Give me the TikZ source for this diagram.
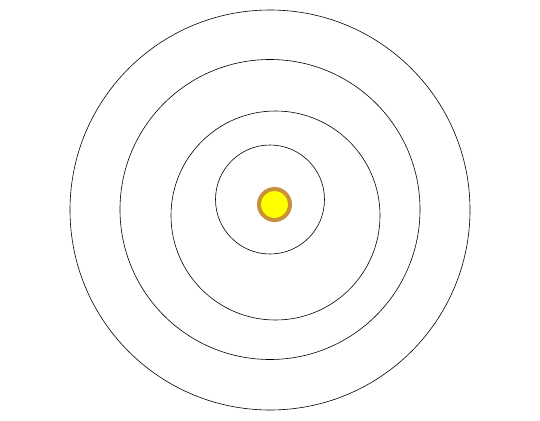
\documentclass[tikz,border=0pt]{standalone}
\usepackage{xcolor}
\usepackage{tikz}
\definecolor{sunfill}{HTML}{FFFF00}
\definecolor{sunrim}{HTML}{C8913A}

\begin{document}
\begin{tikzpicture}[
    x=1pt, y=-1pt,
    orbit/.style={circle, draw=black, line width=0.6pt, inner sep=0pt},
    sun/.style={circle, draw=sunrim, fill=sunfill, line width=4pt, inner sep=0pt, minimum size=31pt}
]
\useasboundingbox (0,0) rectangle (540,420);
\node[orbit, minimum size=400pt] (orbitd) at (270,210) {};
\node[orbit, minimum size=300pt] (orbitc) at (270,209.5) {};
\node[orbit, minimum size=209pt] (orbitb) at (275.5,215.5) {};
\node[orbit, minimum size=109pt] (orbita) at (270,199.5) {};
\node[sun] (star) at (274.5,204.5) {};
\end{tikzpicture}
\end{document}
